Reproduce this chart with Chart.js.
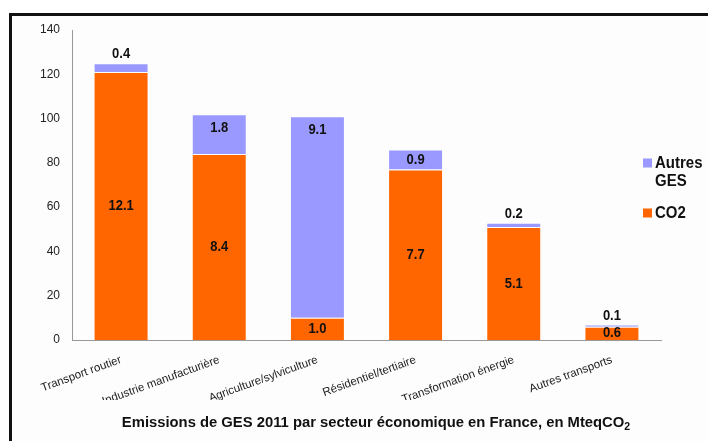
<!DOCTYPE html>
<html>
<head>
<meta charset="utf-8">
<script src="https://cdn.jsdelivr.net/npm/chart.js@4"></script>
<style>
  html, body { margin: 0; padding: 0; background: #ffffff; }
  canvas { display: block; }
</style>
</head>
<body>
<canvas id="ges" width="708" height="441"></canvas>
<script>
const secteurs = ["Transport routier", "Industrie manufacturière", "Agriculture/sylviculture",
                  "Résidentiel/tertiaire", "Transformation énergie", "Autres transports"];
const co2 = [121, 84, 10, 77, 51, 6];
const autresGes = [4, 18, 91, 9, 2, 1];
const yTicks = [0, 20, 40, 60, 80, 100, 120, 140];
const titre = "Emissions de GES 2011 par secteur économique en France, en MteqCO";

const FONT = "'Liberation Sans', Arial, sans-serif";

// texte un peu etire en hauteur
function texteHaut(ctx, txt, x, y, k) {
  ctx.save();
  ctx.translate(x, y);
  ctx.scale(1, k);
  ctx.fillText(txt, 0, 0);
  ctx.restore();
}

// cadre noir + fond
const cadre = {
  id: "cadre",
  beforeDraw(chart) {
    const ctx = chart.ctx;
    ctx.save();
    ctx.fillStyle = "#ffffff";
    ctx.fillRect(0, 0, chart.width, chart.height);
    ctx.fillStyle = "#fdfdfd";
    ctx.fillRect(12, 16, chart.width, chart.height);
    ctx.strokeStyle = "#111111";
    ctx.lineWidth = 3;
    ctx.strokeRect(10.5, 14.5, chart.width + 20, chart.height + 20);
    ctx.restore();
  }
};

// valeurs ecrites sur les barres
const etiquettes = {
  id: "etiquettes",
  afterDatasetsDraw(chart) {
    const ctx = chart.ctx;
    ctx.save();
    ctx.font = "bold 13px " + FONT;
    ctx.fillStyle = "#111111";
    ctx.textAlign = "center";
    ctx.textBaseline = "middle";
    chart.data.datasets.forEach((ds, i) => {
      const meta = chart.getDatasetMeta(i);
      meta.data.forEach((bar, j) => {
        const p = bar.getProps(["x", "y", "base"], true);
        const h = p.base - p.y;
        let y;
        if (i === 0) {
          y = (p.y + p.base) / 2;
        } else if (h < 15) {
          y = p.y - 9;
        } else {
          y = Math.min(p.y + 14, (p.y + p.base) / 2);
        }
        texteHaut(ctx, (ds.data[j] / 10).toFixed(1), p.x, y, 1.15);
      });
    });
    ctx.restore();
  }
};

// legende a droite + titre en bas
const legendeTitre = {
  id: "legendeTitre",
  afterDraw(chart) {
    const ctx = chart.ctx;
    ctx.save();
    ctx.font = "bold 15px " + FONT;
    ctx.textBaseline = "middle";
    ctx.textAlign = "left";
    const x0 = 643, xt = 655, maxW = chart.width - xt - 2;
    let y = 163;
    const items = chart.data.datasets.slice().reverse();
    items.forEach(ds => {
      ctx.fillStyle = ds.backgroundColor;
      ctx.fillRect(x0, y - 4.5, 9, 9);
      ctx.fillStyle = "#111111";
      const mots = ds.label.split(" ");
      let ligne = "";
      const lignes = [];
      mots.forEach(m => {
        const essai = ligne ? ligne + " " + m : m;
        if (ligne && ctx.measureText(essai).width > maxW) {
          lignes.push(ligne);
          ligne = m;
        } else {
          ligne = essai;
        }
      });
      lignes.push(ligne);
      lignes.forEach((l, k) => texteHaut(ctx, l, xt, y + k * 18, 1.1));
      y += (lignes.length - 1) * 18 + 32;
    });

    ctx.font = "bold 14.8px " + FONT;
    const w = ctx.measureText(titre).width;
    ctx.font = "bold 10.5px " + FONT;
    const ws = ctx.measureText("2").width;
    const xs = 376 - (w + ws) / 2;
    ctx.font = "bold 14.8px " + FONT;
    ctx.fillText(titre, xs, 423);
    ctx.font = "bold 10.5px " + FONT;
    ctx.fillText("2", xs + w, 427);
    ctx.restore();
  }
};

new Chart(document.getElementById("ges"), {
  type: "bar",
  data: {
    labels: secteurs,
    datasets: [
      { label: "CO2", data: co2, backgroundColor: "#ff6600",
        borderColor: "rgba(255,255,255,0.5)", borderWidth: 1,
        barPercentage: 0.56, categoryPercentage: 1 },
      { label: "Autres GES", data: autresGes, backgroundColor: "#9999ff",
        borderColor: "rgba(255,255,255,0.5)", borderWidth: 1,
        barPercentage: 0.56, categoryPercentage: 1 }
    ]
  },
  options: {
    responsive: false,
    animation: false,
    devicePixelRatio: 1,
    layout: { padding: { left: 20, right: 47, top: 30, bottom: 41 } },
    plugins: {
      legend: { display: false },
      tooltip: { enabled: false },
      title: { display: false }
    },
    scales: {
      x: {
        stacked: true,
        grid: { display: false },
        border: { color: "#999999" },
        ticks: {
          color: "#222222", font: { family: FONT, size: 11.5 },
          minRotation: 20, maxRotation: 20, padding: 5, autoSkip: false
        },
        afterFit(scale) { scale.height = 60; }
      },
      y: {
        stacked: true,
        min: 0, max: 140,
        grid: { display: false },
        border: { color: "#999999" },
        afterBuildTicks(scale) { scale.ticks = yTicks.map(v => ({ value: v })); },
        ticks: { color: "#222222", font: { family: FONT, size: 12 }, padding: 4 },
        afterFit(scale) { scale.width = 52; }
      }
    }
  },
  plugins: [cadre, etiquettes, legendeTitre]
});
</script>
</body>
</html>
